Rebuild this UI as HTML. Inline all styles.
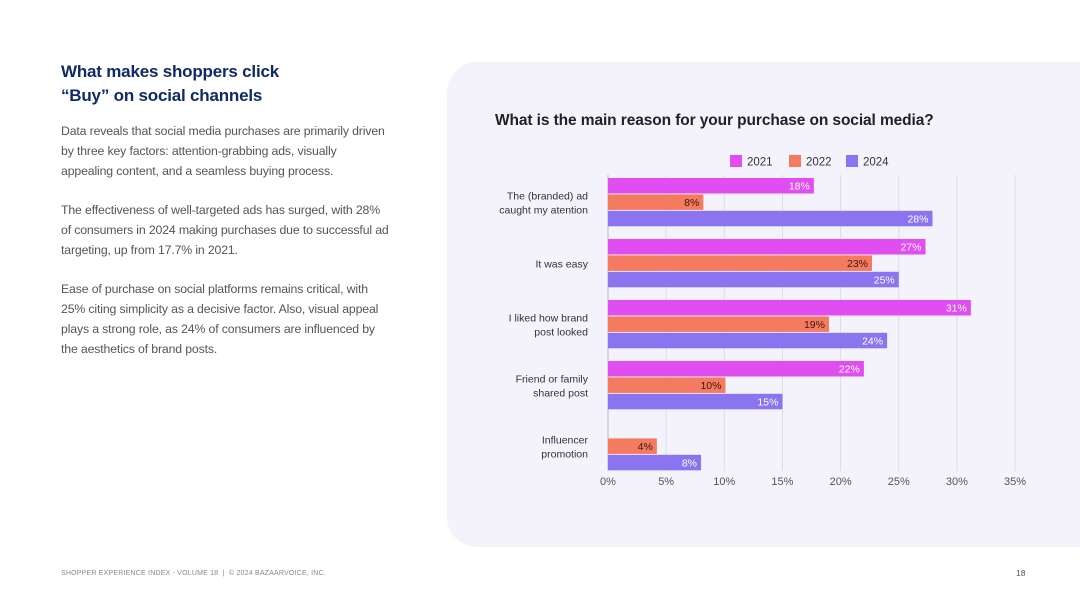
<!DOCTYPE html>
<html><head><meta charset="utf-8">
<style>
body{margin:0;width:1080px;height:608px;background:#fff;position:relative;overflow:hidden;font-family:"Liberation Sans",sans-serif;}
.abs{position:absolute;}
#title{left:61px;top:60px;font-size:17px;font-weight:bold;color:#0f2a66;line-height:24px;letter-spacing:-0.2px;}
.para{left:61px;font-size:12.3px;color:#555;line-height:20px;letter-spacing:-0.15px;}
#panel{left:447px;top:62px;width:660px;height:485px;background:#f4f3fb;border-radius:30px;}
#ctitle{left:495px;top:112px;font-size:15.5px;font-weight:bold;color:#222;letter-spacing:-0.1px;}
#footer{left:61px;top:570px;font-size:7px;color:#888;letter-spacing:0.2px;}
#pnum{left:1016px;top:568px;font-size:8.5px;color:#555;}
</style></head><body>
<div id="title" class="abs">What makes shoppers click<br>“Buy” on social channels</div>
<div class="abs para" style="top:121px">Data reveals that social media purchases are primarily driven<br>by three key factors: attention-grabbing ads, visually<br>appealing content, and a seamless buying process.</div>
<div class="abs para" style="top:200px">The effectiveness of well-targeted ads has surged, with 28%<br>of consumers in 2024 making purchases due to successful ad<br>targeting, up from 17.7% in 2021.</div>
<div class="abs para" style="top:279px">Ease of purchase on social platforms remains critical, with<br>25% citing simplicity as a decisive factor. Also, visual appeal<br>plays a strong role, as 24% of consumers are influenced by<br>the aesthetics of brand posts.</div>
<div id="panel" class="abs"></div>
<div id="ctitle" class="abs">What is the main reason for your purchase on social media?</div>
<svg id="chart" class="abs" style="left:0;top:0" width="1080" height="608"></svg>
<div id="footer" class="abs">SHOPPER EXPERIENCE INDEX - VOLUME 18 &nbsp;| &nbsp;© 2024 BAZAARVOICE, INC.</div>
<div id="pnum" class="abs">18</div>
<script>
const categories=[["The (branded) ad","caught my atention"],["It was easy"],["I liked how brand","post looked"],["Friend or family","shared post"],["Influencer","promotion"]];
const seriesNames=["2021","2022","2024"];
const v2021=[17.7,27.3,31.2,22.0,null];
const v2022=[8.2,22.7,19.0,10.1,4.2];
const v2024=[27.9,25.0,24.0,15.0,8.0];
const labels2021=["18%","27%","31%","22%",""];
const labels2022=["8%","23%","19%","10%","4%"];
const labels2024=["28%","25%","24%","15%","8%"];
const ticks=[0,5,10,15,20,25,30,35];
const colors=["#e04df0","#f47b5f","#8b74f0"];
const labelColors=["#fff","#3a1a10","#fff"];
const NS="http://www.w3.org/2000/svg";
const svg=document.getElementById('chart');
const x0=608,pxPer=11.63;
const xs=v=>x0+v*pxPer;
const groupY=i=>178+i*61;
const barH=15.5,barStep=16.4;
function mk(t,a){const e=document.createElementNS(NS,t);for(const k in a)e.setAttribute(k,a[k]);svg.appendChild(e);return e;}
ticks.forEach(t=>{
 const l=mk('line',{x1:xs(t),x2:xs(t),y1:175,y2:471,stroke:t===0?'#bbb':'#dcdce6','stroke-width':1});
 
 
 const tx=mk('text',{x:xs(t),y:485,'text-anchor':'middle','font-size':11,fill:'#555','font-family':'Liberation Sans, sans-serif'});
 tx.textContent=t+'%';
 
 
});
const series=[v2021,v2022,v2024],slabels=[labels2021,labels2022,labels2024];
categories.forEach((c,i)=>{
 const gy=groupY(i);
 const cy=gy+barStep*1.5;
 c.forEach((line,j)=>{
  const t=mk('text',{x:588,y:cy+4-(c.length-1)*7+j*14,'text-anchor':'end','font-size':10.5,fill:'#333','font-family':'Liberation Sans, sans-serif'});
  t.textContent=line;
  
  
 });
 series.forEach((s,k)=>{
  const v=s[i]; if(v==null)return;
  const y=gy+k*barStep;
  const r=mk('rect',{x:x0,y:y,width:xs(v)-x0,height:barH,fill:colors[k]});
  
  
  const t=mk('text',{x:xs(v)-4,y:y+11.5,'text-anchor':'end','font-size':10.5,fill:labelColors[k],'font-family':'Liberation Sans, sans-serif'});
  t.textContent=slabels[k][i];
  
  
 });
});
const lx=[730,789,846];
seriesNames.forEach((n,k)=>{
 const r=mk('rect',{x:lx[k],y:155,width:12,height:12,fill:colors[k]});
 
 
 const t=mk('text',{x:lx[k]+17,y:165.5,'font-size':11.5,fill:'#333','font-family':'Liberation Sans, sans-serif'});
 t.textContent=n;
 
 
});
</script>
</body></html>
